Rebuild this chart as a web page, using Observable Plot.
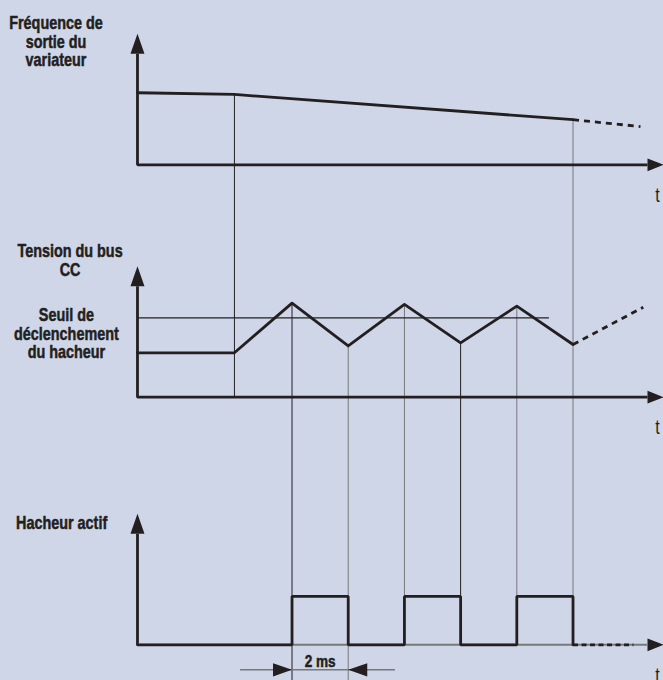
<!DOCTYPE html>
<html><head><meta charset="utf-8">
<script src="https://cdn.jsdelivr.net/npm/d3@7"></script>
<script src="https://cdn.jsdelivr.net/npm/@observablehq/plot@0.6"></script>
<style>
html,body{margin:0;padding:0;background:#cfd6e8;}
#chart{width:663px;height:680px;overflow:hidden}
</style></head><body><div id="chart"></div>
<script>
// ---- data (time in ms, signal levels in arbitrary units) ----
const eventTimes = [3.45, 5.5, 7.5, 9.5, 11.5, 13.5, 15.5];
const freqTimes = [0, 3.45, 15.5];
const freqValues = [5.5, 5.37, 3.44];
const freqDashTimes = [15.5, 17.9];
const freqDashValues = [3.44, 2.92];
const busTimes = [0, 3.45, 5.5, 7.5, 9.5, 11.5, 13.5, 15.5];
const busValues = [3.39, 3.39, 7.18, 3.92, 7.08, 4.15, 6.95, 4.02];
const busDashTimes = [15.5, 18.0];
const busDashValues = [4.02, 6.87];
const thresholdValue = 6.06;
const thresholdEnd = 14.66;
const chopTimes = [0, 5.5, 7.5, 9.5, 11.5, 13.5, 15.5];
const chopValues = [0, 3.69, 0, 3.69, 0, 3.69, 0];
const chopDashTimes = [15.5, 17.65];
const chopDashValues = [0, 0];
const periodStart = 5.5, periodEnd = 7.5;
const panelLabels = ["Fréquence de\nsortie du\nvariateur", "Tension du bus\nCC", "Seuil de\ndéclenchement\ndu hacheur", "Hacheur actif"];
const axisLabel = "t";
const periodLabel = "2 ms";

// ---- layout ----
const xMin = -4.875, xMax = 18.72;
const yMin = -2.725, yMax = 49.18;
const base = {freq: 36.64, bus: 18.9, chop: 0};
const axisTop = 10.0;
const ink = "#231f20", grey = "#77787b";
const font = "'Liberation Sans', Arimo, Arial, sans-serif";
const squeeze = 0.8;

const series = (times, values, b) => times.map((t, i) => ({t, v: b + values[i]}));
const valAt = (times, values, t) => values[times.indexOf(t)];

const guideTop = ["freq", "bus", "bus", "bus", "bus", "bus", "freq"];
const guideBottom = ["bus", "bottom", "bottom", "chop", "chop", "chop", "chop"];
const guideDark = [true, true, false, false, true, false, false];
const guides = eventTimes.map((t, i) => ({
  t,
  y1: guideTop[i] === "freq" ? base.freq + valAt(freqTimes, freqValues, t) : base.bus + valAt(busTimes, busValues, t),
  y2: guideBottom[i] === "bus" ? base.bus : guideBottom[i] === "chop" ? base.chop : yMin,
  c: guideDark[i] ? ink : grey
}));

const tri = (hw) => ({draw(ctx, size) { const r = Math.sqrt(size / Math.PI); ctx.moveTo(0, 0); ctx.lineTo(hw * r, 2 * r); ctx.lineTo(-hw * r, 2 * r); ctx.closePath(); }});
const upTri = tri(0.7), sideTri = tri(0.8);

const panels = ["freq", "bus", "chop"];
const yArrowBase = axisTop - 20 / 13.1;
const xArrowBase = xMax - 16 / 28.1;

const marks = [
  Plot.ruleX(guides, {x: "t", y1: "y1", y2: "y2", stroke: "c", strokeWidth: 1}),
  Plot.ruleY([base.bus + thresholdValue], {x1: 0, x2: thresholdEnd, stroke: ink, strokeWidth: 1.2}),
  ...panels.map(p => Plot.line([{t: 0, v: base[p] + yArrowBase}, {t: 0, v: base[p]}, {t: p === "chop" ? 0 : xArrowBase, v: base[p]}], {x: "t", y: "v", stroke: ink, strokeWidth: 2.8, strokeLinejoin: "miter", strokeLinecap: "butt"})),
  Plot.ruleY([base.chop], {x1: 0, x2: xArrowBase, stroke: grey, strokeWidth: 2}),
  Plot.dot(panels.map(p => ({t: 0, v: base[p] + axisTop})), {x: "t", y: "v", symbol: upTri, r: 10, fill: ink, stroke: "none"}),
  Plot.dot(panels.map(p => ({t: xMax, v: base[p]})), {x: "t", y: "v", symbol: sideTri, r: 8, rotate: 90, fill: ink, stroke: "none"}),
  Plot.line(series(freqTimes, freqValues, base.freq), {x: "t", y: "v", stroke: ink, strokeWidth: 2.8}),
  Plot.line(series(freqDashTimes, freqDashValues, base.freq), {x: "t", y: "v", stroke: ink, strokeWidth: 2.8, strokeDasharray: "6,5", strokeLinecap: "butt"}),
  Plot.line(series(busTimes, busValues, base.bus), {x: "t", y: "v", stroke: ink, strokeWidth: 2.8}),
  Plot.line(series(busDashTimes, busDashValues, base.bus), {x: "t", y: "v", stroke: ink, strokeWidth: 2.8, strokeDasharray: "6,5", strokeLinecap: "butt"}),
  Plot.line(series(chopTimes, chopValues, base.chop), {x: "t", y: "v", curve: "step-after", stroke: ink, strokeWidth: 2.8, strokeLinejoin: "miter"}),
  Plot.line(series(chopDashTimes, chopDashValues, base.chop), {x: "t", y: "v", stroke: ink, strokeWidth: 2.8, strokeDasharray: "5,3.5", strokeLinecap: "butt"}),
  Plot.ruleY([-1.91], {x1: 3.67, x2: 9.18, stroke: grey, strokeWidth: 1.5}),
  Plot.dot([{t: periodStart, v: -1.91, a: 90}, {t: periodEnd, v: -1.91, a: -90}], {x: "t", y: "v", rotate: "a", symbol: upTri, r: 9.5, fill: ink, stroke: "none"}),
  Plot.text([{t: (periodStart + periodEnd) / 2, v: -1.73, s: periodLabel}], {x: "t", y: "v", text: "s", lineAnchor: "bottom", textAnchor: "middle", fontSize: 17, fontWeight: "bold", fontFamily: font, fill: ink, stroke: ink, strokeWidth: 0.5}),
  Plot.text([
    {t: -2.9, v: 47.98, s: panelLabels[0]},
    {t: -2.40, v: 30.57, s: panelLabels[1]},
    {t: -2.53, v: 25.69, s: panelLabels[2]},
    {t: -2.70, v: 9.81, s: panelLabels[3]}
  ], {x: "t", y: "v", text: "s", lineAnchor: "top", lineHeight: 1.03, textAnchor: "middle", fontSize: 18, fontWeight: "bold", fontFamily: font, fill: ink, stroke: ink, strokeWidth: 0.5}),
  Plot.text(panels.map(p => ({t: 18.43, v: base[p] - 2.82, s: axisLabel})), {x: "t", y: "v", text: "s", lineAnchor: "bottom", textAnchor: "start", fontSize: 20, fontFamily: font, fill: ink})
];

const chart = Plot.plot({
  width: 663, height: 680,
  marginTop: 0, marginRight: 0, marginBottom: 0, marginLeft: 0,
  x: {domain: [xMin, xMax], axis: null},
  y: {domain: [yMin, yMax], axis: null},
  style: {background: "transparent", overflow: "visible"},
  marks
});
// condensed lettering like the original typeface
d3.select(chart).selectAll("text").each(function () {
  const tr = this.getAttribute("transform") || "";
  this.setAttribute("transform", tr + ` scale(${squeeze},1)`);
});
document.getElementById("chart").appendChild(chart);
</script></body></html>
